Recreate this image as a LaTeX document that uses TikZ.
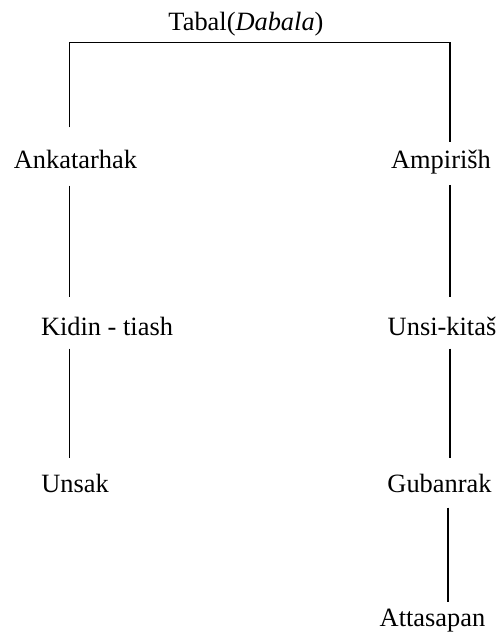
\documentclass[tikz,border=0pt]{standalone}
\usepackage{fontspec}
\setmainfont{Liberation Serif}
\usetikzlibrary{calc}

\begin{document}
\begin{tikzpicture}[x=0.75pt, y=-0.75pt,
		person/.style={inner sep=0pt, anchor=base, font=\fontsize{19.8}{24}\selectfont},
		link/.style={line width=0.9pt}]
		\useasboundingbox (0,0) rectangle (502,632);
		%%%%% NAMES %%%%%
		
		\node[person] (tabal) at (246, 30.5) {Tabal(\textit{Dabala})};
		
		\node[person] (ank) at (75.5, 168) {Ankatarhak};
		\node[person] (amp) at (441, 168) {Ampirišh};
		
		\node[person] (kid) at (107, 335) {Kidin - tiash};
		\node[person] (uns) at (442, 335) {Unsi-kitaš};
		
		\node[person] (unk) at (75, 492) {Unsak};
		\node[person] (gub) at (439.5, 492) {Gubanrak};
		
		\node[person] (att) at (432.5, 626) {Attasapan};
		
		%%%%% LINES %%%%%
		
		\coordinate (lft) at (69.5, 42.5);
		\coordinate (rgt) at (450, 42.5);
		\coordinate (sub) at (448, 0);
		
		\draw[link] ($(lft |- ank.north)+(0,-22)$) -- (lft) -- (rgt) -- ($(rgt |- amp.north)+(0,-7)$);
		
		\draw[link] ($(ank.south -| lft)+(0,17)$) -- ($(kid.north -| lft)+(0,-19)$);
		\draw[link] ($(amp.south -| rgt)+(0,11)$) -- ($(uns.north -| rgt)+(0,-19)$);
		
		\draw[link] ($(kid.south -| lft)+(0,13)$) -- ($(unk.north -| lft)+(0,-15)$);
		\draw[link] ($(uns.south -| rgt)+(0,13)$) -- ($(gub.north -| rgt)+(0,-15)$);
		
		\draw[link] ($(gub.south -| sub)+(0,15)$) -- ($(att.north -| sub)+(0,-6.5)$);
		
		%%%%% END %%%%%
	\end{tikzpicture}
\end{document}
